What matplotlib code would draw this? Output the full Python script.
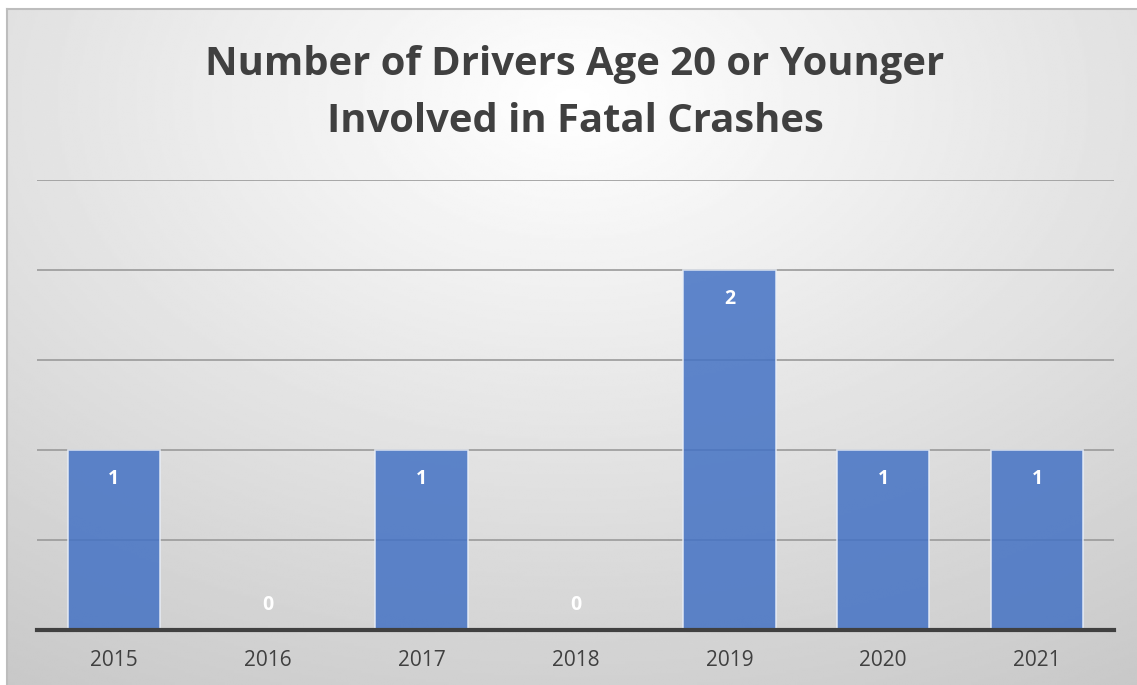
import numpy as np
import matplotlib.pyplot as plt

# Chart data
years = ["2015", "2016", "2017", "2018", "2019", "2020", "2021"]
drivers = [1, 0, 1, 0, 2, 1, 1]

W, H = 1137, 685
fig = plt.figure(figsize=(W / 100, H / 100), dpi=100)
fig.patch.set_facecolor("white")

# Radial gradient background of the chart area
bg = fig.add_axes([7 / W, 0, 1 - 7 / W, 1 - 9 / H])
yy, xx = np.mgrid[0:300, 0:500]
cx, cy = 250, 40
r = np.sqrt(((xx - cx) / 500) ** 2 + ((yy - cy) / 330) ** 2)
r = np.clip(r / 0.95, 0, 1)
shade = 1.0 - 0.22 * r
bg.imshow(shade, cmap="gray", vmin=0, vmax=1, aspect="auto",
          extent=[0, 1, 0, 1], origin="upper", interpolation="bilinear")
bg.set_xticks([])
bg.set_yticks([])
for s in ["top", "left"]:
    bg.spines[s].set_color("#bdbdbd")
    bg.spines[s].set_linewidth(1.5)
for s in ["right", "bottom"]:
    bg.spines[s].set_visible(False)

# Plot area
ax = fig.add_axes([37 / W, 1 - 630 / H, (1114 - 37) / W, (630 - 180) / H])
ax.patch.set_alpha(0)
x = np.arange(len(years))
bars = ax.bar(x, drivers, width=0.6, color="#4472c4", alpha=0.85,
              edgecolor="#e8eef8", linewidth=1.2, zorder=3)
ax.set_xlim(-0.5, len(years) - 0.5)
ax.set_ylim(0, 2.5)
ax.set_yticks([0.5, 1, 1.5, 2, 2.5])
ax.yaxis.grid(True, color="#9a9a9a", linewidth=1.2, zorder=1)
ax.tick_params(axis="y", left=False, labelleft=False)
ax.tick_params(axis="x", bottom=False, pad=11)
ax.set_xticks(x)
ax.set_xticklabels(years, fontsize=15, color="#404040", family="Open Sans")
for s in ["top", "left", "right"]:
    ax.spines[s].set_visible(False)
ax.spines["bottom"].set_color("#404040")
ax.spines["bottom"].set_linewidth(3)
ax.spines["bottom"].set_zorder(4)

for xi, v in zip(x, drivers):
    if v > 0:
        ax.annotate(str(v), (xi, v), xytext=(0, -21), textcoords="offset points",
                    ha="center", va="center", color="white", fontsize=14,
                    fontweight="bold", family="Open Sans", zorder=5)
    else:
        ax.annotate(str(v), (xi, 0), xytext=(0, 18), textcoords="offset points",
                    ha="center", va="center", color="white", fontsize=14,
                    fontweight="bold", family="Open Sans", zorder=5)

fig.text(575 / W, 1 - 93 / H, "Number of Drivers Age 20 or Younger\nInvolved in Fatal Crashes",
         ha="center", va="center", fontsize=28.8, fontweight="bold",
         color="#404040", family="Open Sans", linespacing=1.62)

fig.savefig("out.png", dpi=100)
